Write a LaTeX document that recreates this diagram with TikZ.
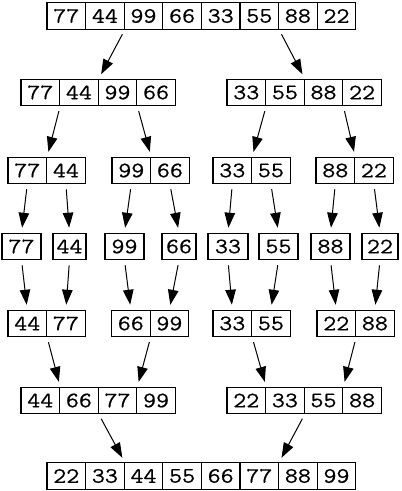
\documentclass[tikz,border=0pt]{standalone}
\usepackage{fontspec}
\newfontfamily\numfont{Latin Modern Mono}[FakeStretch=1.15,FakeBold=0.6]
\usetikzlibrary{arrows.meta}
\tikzset{
  cell/.style={draw, line width=1.1pt, minimum width=38.6pt, minimum height=26.5pt,
    inner sep=0pt, font=\fontsize{22}{22}\numfont},
  single/.style={cell, minimum width=#1},
  conn/.style={line width=1pt, -{Triangle[length=15pt,width=10.5pt]},
    shorten <=5pt, shorten >=5pt}
}
\newcommand\cellrow[4]{%
  \foreach \v [count=\i] in {#4}{%
    \node[cell] (#1\i) at ({#2+(\i-0.5)*38.6},#3) {\v};}}
\begin{document}
\begin{tikzpicture}[x=1pt,y=-1pt]
\useasboundingbox (0,0) rectangle (402,491);
% row 1
\cellrow{a}{47}{16}{77,44,99,66,33,55,88,22}
% row 2
\cellrow{b}{21}{92.5}{77,44,99,66}
\cellrow{c}{227}{92.5}{33,55,88,22}
% row 3
\cellrow{d}{8}{170.5}{77,44}
\cellrow{e}{112}{170.5}{99,66}
\cellrow{f}{213}{170.5}{33,55}
\cellrow{g}{316}{170.5}{88,22}
% row 4
\node[single=39pt] (h1) at (21.5,246.5) {77};
\node[single=33pt] (h2) at (69.5,246.5) {44};
\node[single=39pt] (h3) at (124.5,246.5) {99};
\node[single=34pt] (h4) at (179,246.5) {66};
\node[single=40pt] (h5) at (228,246.5) {33};
\node[single=39pt] (h6) at (278.5,246.5) {55};
\node[single=39pt] (h7) at (330.5,246.5) {88};
\node[single=36pt] (h8) at (380,246.5) {22};
% row 5
\cellrow{i}{8}{323.5}{44,77}
\cellrow{j}{111.5}{323.5}{66,99}
\cellrow{k}{213}{323.5}{33,55}
\cellrow{l}{317}{323.5}{22,88}
% row 6
\cellrow{m}{21}{400.5}{44,66,77,99}
\cellrow{n}{227}{400.5}{22,33,55,88}
% row 7
\cellrow{o}{47}{476}{22,33,44,55,66,77,88,99}
% arrows
\draw[conn] (a2.south east) -- (b2.north east);
\draw[conn] (a6.south east) -- (c2.north east);
\draw[conn] (b1.south east) -- (d1.north east);
\draw[conn] (b3.south east) -- (e1.north east);
\draw[conn] (c1.south east) -- (f1.north east);
\draw[conn] (c3.south east) -- (g1.north east);
\draw[conn] (d1.south) -- (h1.north);
\draw[conn] (d2.south) -- (h2.north);
\draw[conn] (e1.south) -- (h3.north);
\draw[conn] (e2.south) -- (h4.north);
\draw[conn] (f1.south) -- (h5.north);
\draw[conn] (f2.south) -- (h6.north);
\draw[conn] (g1.south) -- (h7.north);
\draw[conn] (g2.south) -- (h8.north);
\draw[conn] (h1.south) -- (i1.north);
\draw[conn] (h2.south) -- (i2.north);
\draw[conn] (h3.south) -- (j1.north);
\draw[conn] (h4.south) -- (j2.north);
\draw[conn] (h5.south) -- (k1.north);
\draw[conn] (h6.south) -- (k2.north);
\draw[conn] (h7.south) -- (l1.north);
\draw[conn] (h8.south) -- (l2.north);
\draw[conn] (i1.south east) -- (m1.north east);
\draw[conn] (j1.south east) -- (m3.north east);
\draw[conn] (k1.south east) -- (n1.north east);
\draw[conn] (l1.south east) -- (n3.north east);
\draw[conn] (m2.south east) -- (o2.north east);
\draw[conn] (n2.south east) -- (o6.north east);
\end{tikzpicture}
\end{document}
